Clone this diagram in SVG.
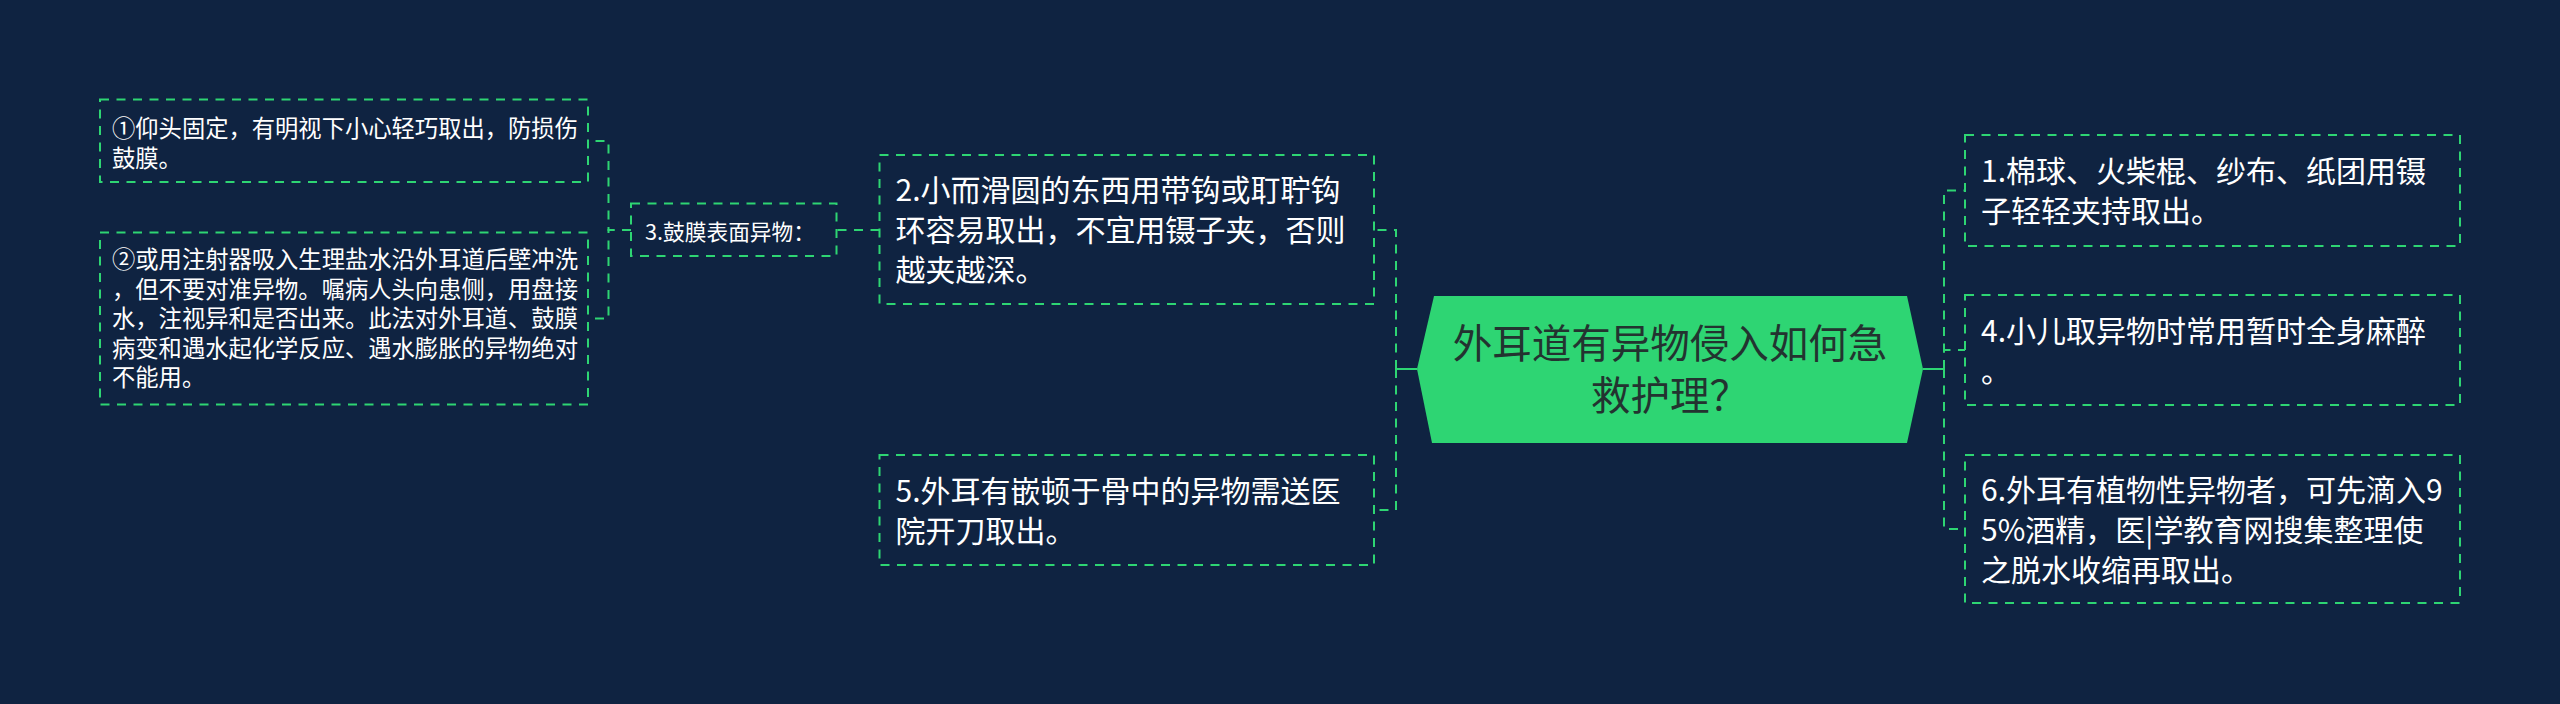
<svg xmlns="http://www.w3.org/2000/svg" width="2560" height="704" viewBox="0 0 2560 704">
<style>
.bg{fill:#0f2341}
.box{fill:#0f2341;stroke:#2ed573;stroke-width:2;stroke-dasharray:9 7.5}
.con{fill:none;stroke:#2ed573;stroke-width:2;stroke-dasharray:9 7.5}
.stem{fill:none;stroke:#2ed573;stroke-width:2}
text{font-family:"Noto Sans CJK SC","Noto Sans",sans-serif}
.t1{font-size:30px;fill:#ffffff}
.t2{font-size:21.7px;fill:#ffffff}
.t3{font-size:23.3px;fill:#ffffff}
.tc{font-size:39.5px;fill:#233330;text-anchor:middle}
</style>
<rect class="bg" x="0" y="0" width="2560" height="704"/>
<g id="connectors">
<path class="stem" d="M1417,369 H1396"/>
<path class="con" d="M1396,369 V230 H1374"/>
<path class="con" d="M1396,369 V510 H1374"/>
<path class="stem" d="M1923,369 H1944"/>
<path class="con" d="M1944,369 V190.5 H1965"/>
<path class="con" d="M1944,369 V350 H1965"/>
<path class="con" d="M1944,369 V529 H1965"/>
<path class="con" d="M879.5,230 H836.5"/>
<path class="con" d="M631,230 H608.5 V141 H588"/>
<path class="con" d="M631,230 H608.5 V318.5 H588"/>
</g>
<g id="center">
<polygon points="1434,296 1907,296 1923,369 1907,443 1432,443 1417,369" fill="#2ed573"/>
<text class="tc"><tspan x="1670" y="358">外耳道有异物侵入如何急</tspan><tspan x="1670" y="410">救护理？</tspan></text>
</g>
<g id="node-2">
<rect class="box" x="879.5" y="155" width="494.5" height="149"/>
<text class="t1"><tspan x="895.5" y="201">2.小而滑圆的东西用带钩或耵聍钩</tspan><tspan x="895.5" y="241">环容易取出，不宜用镊子夹，否则</tspan><tspan x="895.5" y="281">越夹越深。</tspan></text>
</g>
<g id="node-5">
<rect class="box" x="879.5" y="455" width="494.5" height="110"/>
<text class="t1"><tspan x="895.5" y="502">5.外耳有嵌顿于骨中的异物需送医</tspan><tspan x="895.5" y="542">院开刀取出。</tspan></text>
</g>
<g id="node-1">
<rect class="box" x="1965" y="135" width="495" height="111"/>
<text class="t1"><tspan x="1981" y="182">1.棉球、火柴棍、纱布、纸团用镊</tspan><tspan x="1981" y="222">子轻轻夹持取出。</tspan></text>
</g>
<g id="node-4">
<rect class="box" x="1965" y="295" width="495" height="110"/>
<text class="t1"><tspan x="1981" y="341.5">4.小儿取异物时常用暂时全身麻醉</tspan><tspan x="1981" y="381.5">。</tspan></text>
</g>
<g id="node-6">
<rect class="box" x="1965" y="455" width="495" height="148"/>
<text class="t1"><tspan x="1981" y="500.5">6.外耳有植物性异物者，可先滴入9</tspan><tspan x="1981" y="540.5">5%酒精，医|学教育网搜集整理使</tspan><tspan x="1981" y="580.5">之脱水收缩再取出。</tspan></text>
</g>
<g id="node-3">
<rect class="box" x="631" y="203.5" width="205.5" height="52.5"/>
<text class="t2" x="645" y="240">3.鼓膜表面异物：</text>
</g>
<g id="node-3-1">
<rect class="box" x="100" y="99.5" width="488" height="82.5"/>
<text class="t3"><tspan x="112" y="137">①仰头固定，有明视下小心轻巧取出，防损伤</tspan><tspan x="112" y="167">鼓膜。</tspan></text>
</g>
<g id="node-3-2">
<rect class="box" x="100" y="232.5" width="488" height="172"/>
<text class="t3"><tspan x="112" y="268">②或用注射器吸入生理盐水沿外耳道后壁冲洗</tspan><tspan x="112" y="297.5">，但不要对准异物。嘱病人头向患侧，用盘接</tspan><tspan x="112" y="327">水，注视异和是否出来。此法对外耳道、鼓膜</tspan><tspan x="112" y="356.5">病变和遇水起化学反应、遇水膨胀的异物绝对</tspan><tspan x="112" y="386">不能用。</tspan></text>
</g>
</svg>
